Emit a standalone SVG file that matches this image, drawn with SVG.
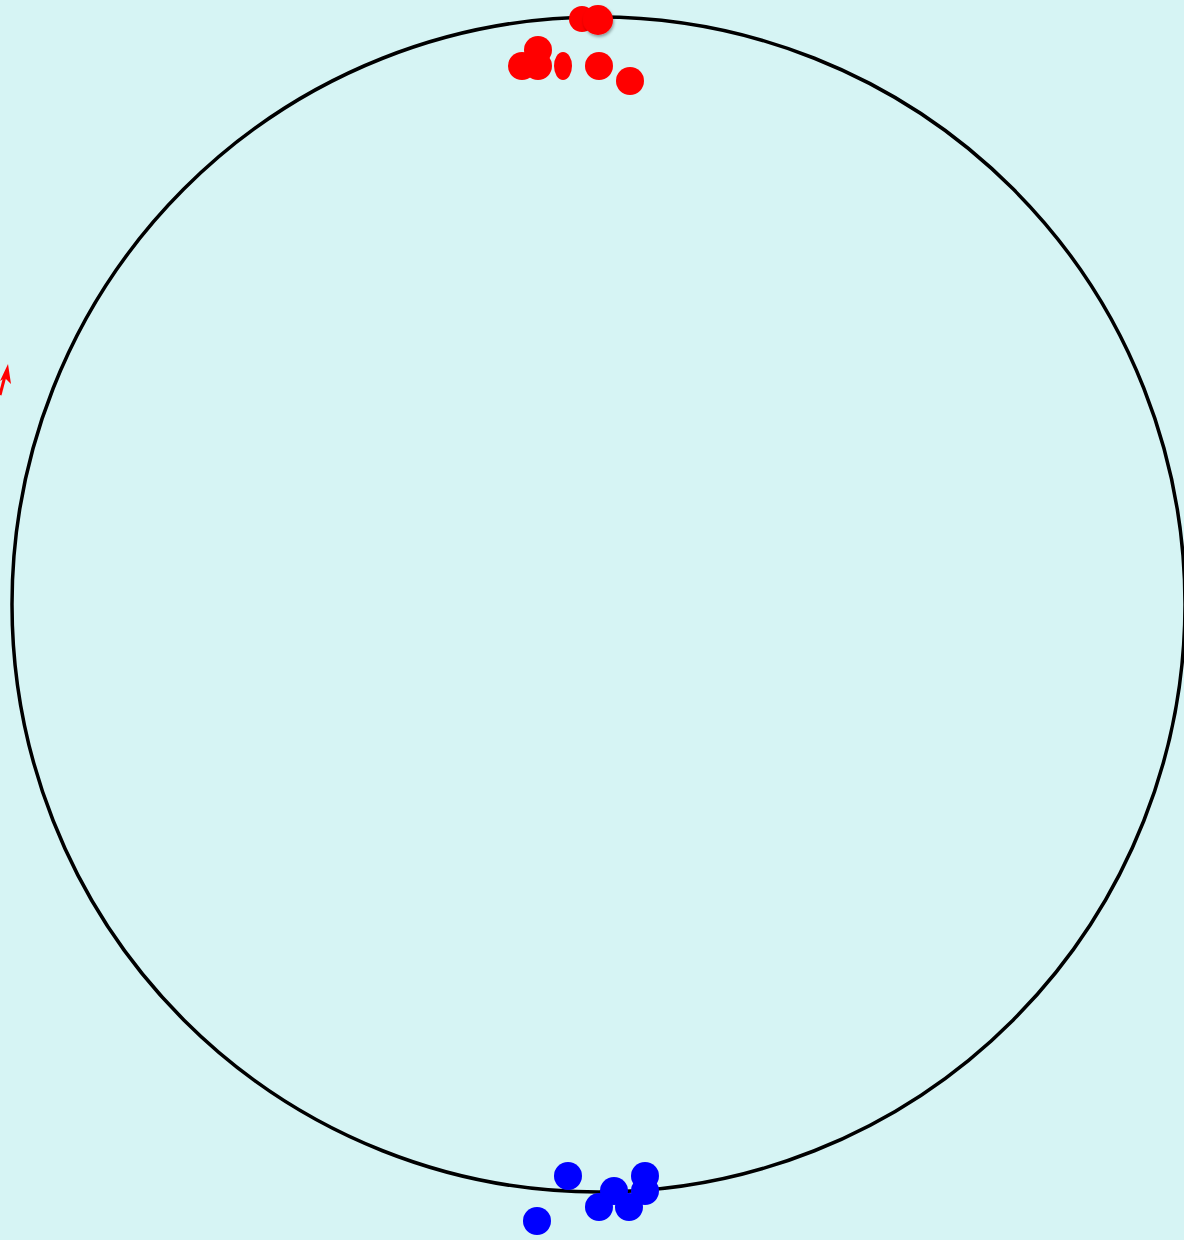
<svg xmlns="http://www.w3.org/2000/svg" width="1184" height="1240" viewBox="0 0 1184 1240">
<defs>
<style>
.r{fill:#ff0000}
.b{fill:#0000ff}
</style>
<filter id="sh" x="-50%" y="-50%" width="200%" height="200%"><feDropShadow dx="1" dy="2" stdDeviation="1.5" flood-color="#000" flood-opacity="0.35"/></filter>
</defs>
<rect width="1184" height="1240" fill="#d6f4f4"/>
<ellipse cx="598.5" cy="604.5" rx="586.5" ry="587.5" fill="none" stroke="#000" stroke-width="3.5"/>
<g id="red">
<circle class="r" cx="582" cy="19" r="13"/>
<circle class="r" cx="598" cy="20" r="15" filter="url(#sh)"/>
<circle class="r" cx="538" cy="50" r="14"/>
<circle class="r" cx="522" cy="66" r="14"/>
<circle class="r" cx="538" cy="66" r="14"/>
<ellipse class="r" cx="563" cy="66" rx="9" ry="14"/>
<circle class="r" cx="599" cy="66" r="14"/>
<circle class="r" cx="630" cy="81" r="14"/>
</g>
<g id="blue">
<circle class="b" cx="568" cy="1176" r="14"/>
<circle class="b" cx="537" cy="1221" r="14"/>
<circle class="b" cx="614" cy="1191" r="14"/>
<circle class="b" cx="599" cy="1207" r="14"/>
<circle class="b" cx="629" cy="1207" r="14"/>
<circle class="b" cx="645" cy="1176" r="14"/>
<circle class="b" cx="645" cy="1191" r="14"/>
</g>
<g id="arrow">
<line x1="0" y1="395" x2="5" y2="376" stroke="#ff0000" stroke-width="3"/>
<polygon class="r" points="8,364 11,384 5,378 0,381"/>
</g>
</svg>
